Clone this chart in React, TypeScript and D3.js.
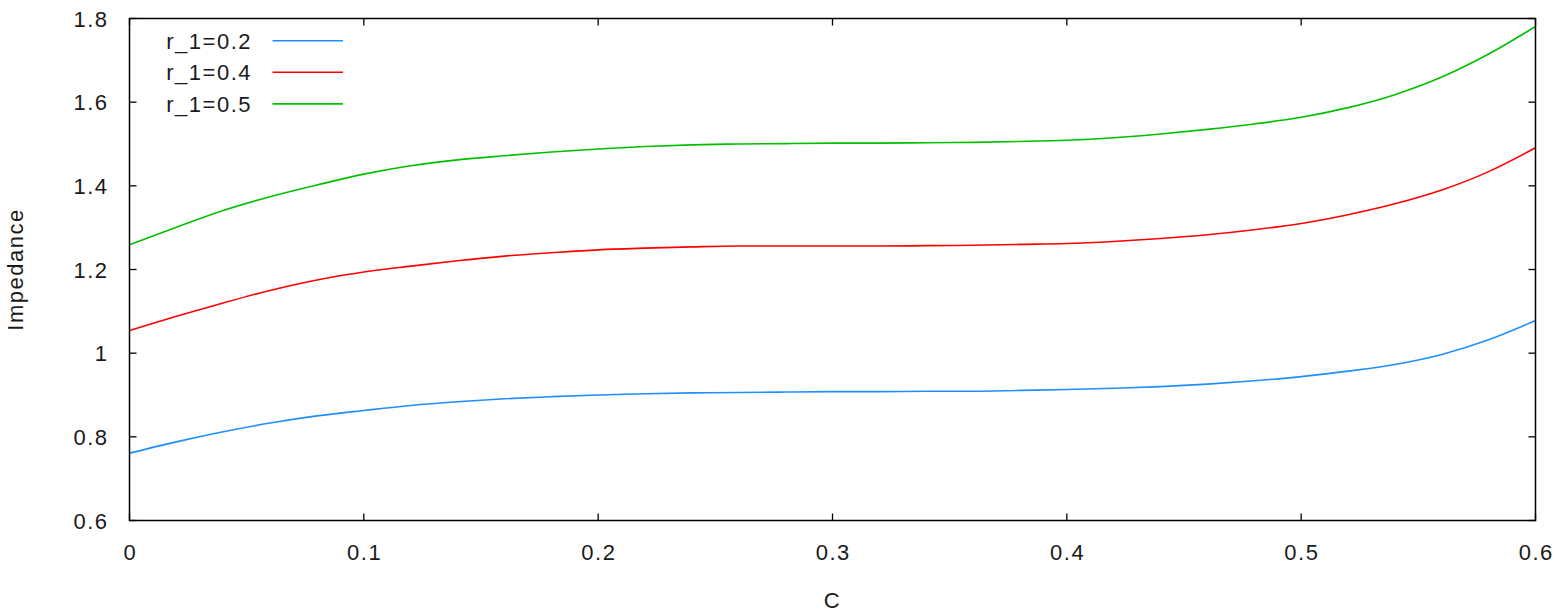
import React from "react";
import * as d3 from "d3";

const cValues = [0, 0.02, 0.04, 0.06, 0.08, 0.1, 0.12, 0.14, 0.16, 0.18, 0.2, 0.22, 0.24, 0.26, 0.28, 0.3, 0.32, 0.34, 0.36, 0.38, 0.4, 0.42, 0.44, 0.46, 0.48, 0.5, 0.52, 0.54, 0.56, 0.58, 0.6];

const r02 = [0.761, 0.788, 0.812, 0.833, 0.85, 0.863, 0.875, 0.884, 0.891, 0.896, 0.9, 0.903, 0.905, 0.906, 0.907, 0.908, 0.908, 0.909, 0.909, 0.911, 0.913, 0.916, 0.92, 0.926, 0.934, 0.944, 0.957, 0.973, 0.997, 1.032, 1.078];
const r04 = [1.054, 1.088, 1.12, 1.15, 1.175, 1.194, 1.208, 1.221, 1.232, 1.24, 1.247, 1.251, 1.254, 1.256, 1.256, 1.256, 1.256, 1.257, 1.258, 1.26, 1.262, 1.267, 1.274, 1.283, 1.295, 1.31, 1.331, 1.357, 1.39, 1.434, 1.491];
const r05 = [1.259, 1.301, 1.341, 1.374, 1.402, 1.428, 1.448, 1.462, 1.472, 1.481, 1.488, 1.494, 1.498, 1.5, 1.501, 1.502, 1.502, 1.503, 1.504, 1.506, 1.509, 1.515, 1.524, 1.535, 1.548, 1.564, 1.587, 1.618, 1.66, 1.715, 1.781];

const seriesNames = ["r_1=0.2", "r_1=0.4", "r_1=0.5"];
const seriesColors = ["#1f8fff", "#ff0000", "#00c000"];
const seriesValues = [r02, r04, r05];

const xTicks = [0, 0.1, 0.2, 0.3, 0.4, 0.5, 0.6];
const xTickLabels = ["0", "0.1", "0.2", "0.3", "0.4", "0.5", "0.6"];
const yTicks = [0.6, 0.8, 1.0, 1.2, 1.4, 1.6, 1.8];
const yTickLabels = ["0.6", "0.8", "1", "1.2", "1.4", "1.6", "1.8"];

const W = 1559;
const H = 614;
const left = 129.5;
const right = 1535.5;
const top = 18.5;
const bottom = 520.5;

export default function App() {
  const x = d3.scaleLinear().domain([0, 0.6]).range([left, right]);
  const y = d3.scaleLinear().domain([0.6, 1.8]).range([bottom, top]);
  const line = d3
    .line<number>()
    .x((_, i) => x(cValues[i]))
    .y((d) => y(d))
    .curve(d3.curveMonotoneX);

  const font = "'Liberation Sans', Arial, sans-serif";
  const textColor = "#1a1a1a";
  const tickLen = 7;

  return (
    <svg
      width={W}
      height={H}
      style={{ position: "absolute", left: 0, top: 0, display: "block", background: "#fff" }}
      fontFamily={font}
      fontSize={22}
      letterSpacing={1.5}
    >
      <rect x={0} y={0} width={W} height={H} fill="#fff" />
      {seriesValues.map((vals, i) => (
        <path key={i} d={line(vals) || ""} fill="none" stroke={seriesColors[i]} strokeWidth={1.6} />
      ))}
      {xTicks.map((t, i) => (
        <g key={"xt" + i}>
          <line x1={x(t)} x2={x(t)} y1={bottom} y2={bottom - tickLen} stroke="#000" strokeWidth={1.3} />
          <line x1={x(t)} x2={x(t)} y1={top} y2={top + tickLen} stroke="#000" strokeWidth={1.3} />
          <text x={x(t) + 0.75} y={bottom + 39} textAnchor="middle" fill={textColor}>
            {xTickLabels[i]}
          </text>
        </g>
      ))}
      {yTicks.map((t, i) => (
        <g key={"yt" + i}>
          <line x1={left} x2={left + tickLen} y1={y(t)} y2={y(t)} stroke="#000" strokeWidth={1.3} />
          <line x1={right} x2={right - tickLen} y1={y(t)} y2={y(t)} stroke="#000" strokeWidth={1.3} />
          <text x={108.5} y={y(t) + 8} textAnchor="end" fill={textColor}>
            {yTickLabels[i]}
          </text>
        </g>
      ))}
      <rect x={left} y={top} width={right - left} height={bottom - top} fill="none" stroke="#000" strokeWidth={1.5} />
      {seriesNames.map((n, i) => {
        const ly = 40.7 + i * 31.6;
        return (
          <g key={"lg" + i}>
            <text x={252} y={ly + 8} textAnchor="end" fill={textColor}>
              {n}
            </text>
            <line x1={272.5} x2={343} y1={ly} y2={ly} stroke={seriesColors[i]} strokeWidth={1.6} />
          </g>
        );
      })}
      <text x={(left + right) / 2} y={608} textAnchor="middle" fill={textColor}>
        C
      </text>
      <text transform={`translate(23, ${(top + bottom) / 2}) rotate(-90)`} textAnchor="middle" fill={textColor}>
        Impedance
      </text>
    </svg>
  );
}
